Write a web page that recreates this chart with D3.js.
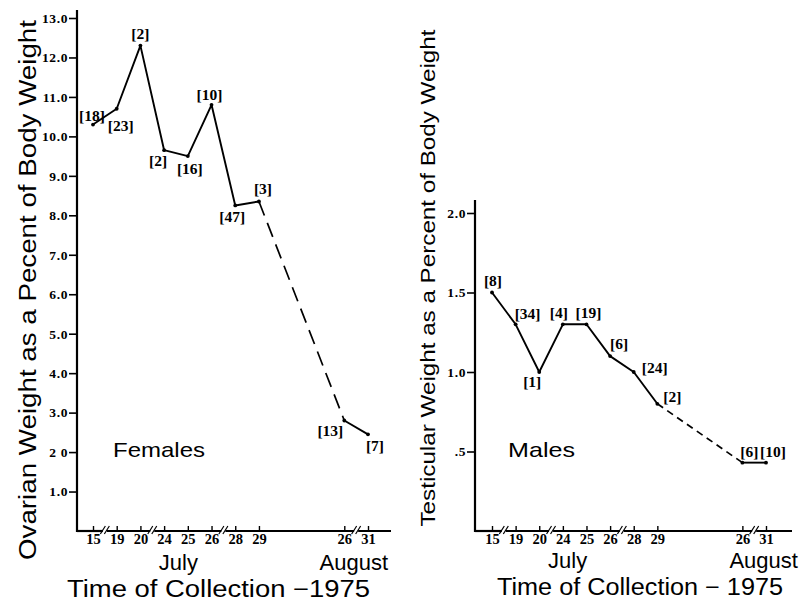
<!DOCTYPE html>
<html><head><meta charset="utf-8">
<script src="https://cdn.jsdelivr.net/npm/d3@7"></script>
<style>body{margin:0;background:#fff}svg{display:block}</style>
</head><body>
<svg id="c" width="800" height="602"></svg>
<script>
// ---- data ----
const dayLabels = ["15","19","20","24","25","26","28","29","26","31"];
const daySlots = [0,1,2,3,4,5,6,7,10.6,11.6];
const breakSlots = [0.5,2.5,5.5,11.1];
const femaleValues = [10.3,10.7,12.3,9.65,9.5,10.8,8.25,8.35,2.8,2.45];
const femaleN = [18,23,2,2,16,10,47,3,13,7];
const maleValues = [1.5,1.3,1.0,1.3,1.3,1.1,1.0,0.8,0.43,0.43];
const maleN = [8,34,1,4,19,6,24,2,6,10];
const femaleTicks = [1,2,3,4,5,6,7,8,9,10,11,12,13];
const femaleTickLabels = ["1.0","2 0","3.0","4.0","5.0","6.0","7.0","8.0","9.0","10.0","11.0","12.0","13.0"];
const maleTicks = [0.5,1.0,1.5,2.0];
const maleTickLabels = [".5","1.0","1.5","2.0"];
const monthLabels = ["July","August"];
const dashedFrom = 7; // segment 29 July -> 26 Aug is dashed

// label offsets (layout)
const femaleLabelOff = [[-1,-9],[4,17],[0,-12],[-6,10],[2,12],[-2,-10],[-3,11],[4,-13],[-14,10],[7,11]];
const maleLabelOff = [[1,-12],[12,-11],[-7,10],[-4,-12],[2,-12],[9,-13],[21,-4],[15,-7],[7,-11],[7,-11]];

const svg = d3.select("#c");
const SERIF = "'Liberation Serif','Times New Roman',serif";
const SANS = "'Liberation Sans',Arial,Helvetica,sans-serif";

function panel(cfg){
  const g = svg.append("g");
  const x = d3.scaleLinear().domain([0,11.6]).range(cfg.xRange);
  const y = d3.scaleLinear().domain(cfg.yDomain).range([531, cfg.yTopVal]);
  const axisY = 531;

  // y axis
  const ya = d3.axisLeft(y).tickValues(cfg.ticks).tickSize(8).tickPadding(1)
    .tickFormat((d,i)=>cfg.tickLabels[i]);
  const yg = g.append("g").attr("transform",`translate(${cfg.axisX},0)`).call(ya);
  yg.select(".domain").remove();
  yg.selectAll(".tick line").attr("stroke","#000").attr("stroke-width",1.6);
  yg.selectAll(".tick text").attr("font-family",SERIF).attr("font-weight","bold")
    .attr("font-size",13.5).attr("fill","#000").attr("letter-spacing",0.6);
  g.append("line").attr("x1",cfg.axisX).attr("x2",cfg.axisX).attr("y1",cfg.axisTop).attr("y2",axisY+1)
    .attr("stroke","#000").attr("stroke-width",2.2);

  // x axis
  const xa = d3.axisBottom(x).tickValues(daySlots).tickSizeInner(-5).tickSizeOuter(0).tickPadding(3)
    .tickFormat((d,i)=>dayLabels[i]);
  const xg = g.append("g").attr("transform",`translate(0,${axisY})`).call(xa);
  xg.select(".domain").remove();
  xg.selectAll(".tick line").attr("stroke","#000").attr("stroke-width",1.4);
  xg.selectAll(".tick text").attr("font-family",SERIF).attr("font-weight","bold")
    .attr("font-size",14.5).attr("fill","#000");
  // axis line with breaks
  const bx = breakSlots.map(s=>x(s));
  let segs = [], start = cfg.axisX;
  bx.forEach(b=>{ segs.push([start,b-2]); start=b+2; });
  segs.push([start,cfg.axisRight]);
  g.selectAll(".xseg").data(segs).enter().append("line")
    .attr("x1",d=>d[0]).attr("x2",d=>d[1]).attr("y1",axisY).attr("y2",axisY)
    .attr("stroke","#000").attr("stroke-width",2.2);
  g.selectAll(".brk").data(bx.flatMap(b=>[b-2,b+2])).enter().append("line")
    .attr("x1",d=>d-2.5).attr("x2",d=>d+2.5).attr("y1",axisY+3).attr("y2",axisY-5)
    .attr("stroke","#000").attr("stroke-width",1.2);

  // data line
  const pts = cfg.values.map((v,i)=>[x(daySlots[i]), y(v)]);
  const line = d3.line();
  g.append("path").attr("d",line(pts.slice(0,dashedFrom+1))).attr("fill","none")
    .attr("stroke","#000").attr("stroke-width",1.9).attr("stroke-linejoin","round");
  g.append("path").attr("d",line(pts.slice(dashedFrom,dashedFrom+2))).attr("fill","none")
    .attr("stroke","#000").attr("stroke-width",1.7).attr("stroke-dasharray",cfg.dash);
  g.append("path").attr("d",line(pts.slice(dashedFrom+1))).attr("fill","none")
    .attr("stroke","#000").attr("stroke-width",1.9);
  g.selectAll(".pt").data(pts).enter().append("circle")
    .attr("cx",d=>d[0]).attr("cy",d=>d[1]).attr("r",1.9).attr("fill","#000");

  // n labels
  g.selectAll(".nl").data(cfg.n).enter().append("text")
    .attr("x",(d,i)=>pts[i][0]+cfg.off[i][0])
    .attr("y",(d,i)=>pts[i][1]+cfg.off[i][1])
    .attr("dy","0.35em").attr("text-anchor","middle")
    .attr("font-family",SERIF).attr("font-weight","bold").attr("font-size",15.5)
    .attr("fill","#000").text(d=>`[${d}]`);

  // month labels
  const mx = [x(cfg.julyCenter), x(cfg.augCenter)];
  g.selectAll(".mon").data(monthLabels).enter().append("text")
    .attr("x",(d,i)=>mx[i]).attr("y",cfg.monthY).attr("text-anchor","middle")
    .attr("font-family",SANS).attr("font-size",22).attr("fill","#000").text(d=>d);
  g.append("text").attr("x",cfg.xTitle[0]).attr("y",cfg.xTitle[1]).attr("textLength",cfg.xTitle[2])
    .attr("lengthAdjust","spacingAndGlyphs")
    .attr("font-family",SANS).attr("font-size",23).attr("fill","#000").text(cfg.xTitleText);

  // y title
  g.append("text").attr("transform",`translate(${cfg.yTitle[0]},${cfg.yTitle[1]}) rotate(-90)`)
    .attr("text-anchor","middle").attr("textLength",cfg.yTitle[2]).attr("lengthAdjust","spacingAndGlyphs")
    .attr("font-family",SANS).attr("font-size",cfg.yTitle[3]).attr("fill","#000").text(cfg.yTitleText);

  // panel label
  g.append("text").attr("x",cfg.name[0]).attr("y",cfg.name[1]).attr("textLength",cfg.name[2])
    .attr("lengthAdjust","spacingAndGlyphs")
    .attr("font-family",SANS).attr("font-size",21).attr("fill","#000").text(cfg.nameText);
}

panel({
  xRange:[93,368], yDomain:[0,13], yTopVal:18, axisX:77, axisTop:10, axisRight:391,
  ticks:femaleTicks, tickLabels:femaleTickLabels, values:femaleValues, n:femaleN, off:femaleLabelOff,
  dash:"15,8", julyCenter:3.6, augCenter:11.0, monthY:570,
  xTitle:[67,597,303], xTitleText:"Time of Collection \u22121975",
  yTitle:[36,290,540,23], yTitleText:"Ovarian Weight as a Pecent of Body Weight",
  name:[113,457,92], nameText:"Females"
});
panel({
  xRange:[492,766], yDomain:[0,2], yTopVal:213, axisX:475, axisTop:200, axisRight:792,
  ticks:maleTicks, tickLabels:maleTickLabels, values:maleValues, n:maleN, off:maleLabelOff,
  dash:"7,5", julyCenter:3.2, augCenter:11.5, monthY:568,
  xTitle:[497,595,286], xTitleText:"Time of Collection \u2212 1975",
  yTitle:[435,278,497,20], yTitleText:"Testicular Weight as a Percent of Body Weight",
  name:[508,457,67], nameText:"Males"
});
</script>
</body></html>
